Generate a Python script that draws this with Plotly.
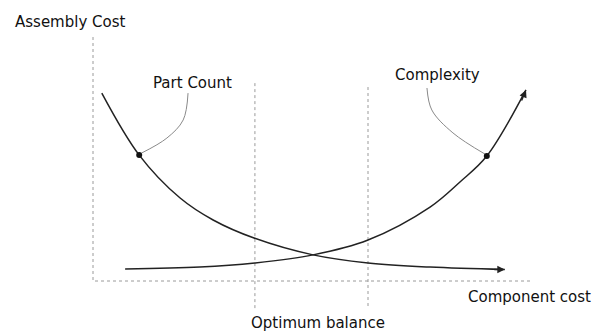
import plotly.graph_objects as go

# ---- data (conceptual units: component cost 0..10, assembly cost 0..10) ----
part_count_x = [0.20, 1.05, 1.98, 2.73, 3.66, 5.00, 6.25, 7.66, 9.36]
part_count_y = [7.70, 5.16, 3.40, 2.50, 1.76, 1.07, 0.74, 0.57, 0.47]

complexity_x = [0.73, 2.43, 3.68, 5.00, 6.25, 7.66, 8.34, 8.95, 9.84]
complexity_y = [0.49, 0.57, 0.74, 1.07, 1.68, 3.03, 4.06, 5.12, 7.83]

optimum_x = [3.68, 6.25]
optimum_top = [8.11, 7.95]
optimum_bottom = [-1.19, -1.07]

part_dot = (1.05, 5.16)
complexity_dot = (8.95, 5.12)

part_leader_x = [2.16, 2.05, 1.68, 1.10]
part_leader_y = [7.70, 6.60, 5.86, 5.24]
cx_leader_x = [7.59, 7.70, 8.18, 8.91]
cx_leader_y = [7.91, 7.01, 6.07, 5.20]

labels = {
    "y_title": "Assembly Cost",
    "x_title": "Component cost",
    "part": "Part Count",
    "complexity": "Complexity",
    "optimum": "Optimum balance",
}

FONT = "DejaVu Sans"
INK = "#222222"
GRAY = "#9a9a9a"

fig = go.Figure()

# axes (dotted)
fig.add_trace(go.Scatter(x=[0, 0, 9.98], y=[10.0, 0, 0], mode="lines",
                         line=dict(color=GRAY, width=1, dash="dot"), hoverinfo="skip"))
# optimum balance lines
for xv, t, b in zip(optimum_x, optimum_top, optimum_bottom):
    fig.add_trace(go.Scatter(x=[xv, xv], y=[t, b], mode="lines",
                             line=dict(color=GRAY, width=1, dash="dot"), hoverinfo="skip"))

# leaders
fig.add_trace(go.Scatter(x=part_leader_x, y=part_leader_y, mode="lines",
                         line=dict(color="#8a8a8a", width=1, shape="spline"), hoverinfo="skip"))
fig.add_trace(go.Scatter(x=cx_leader_x, y=cx_leader_y, mode="lines",
                         line=dict(color="#8a8a8a", width=1, shape="spline"), hoverinfo="skip"))

# curves
fig.add_trace(go.Scatter(x=part_count_x, y=part_count_y, mode="lines",
                         line=dict(color=INK, width=1.5, shape="spline", smoothing=1.0)))
fig.add_trace(go.Scatter(x=complexity_x, y=complexity_y, mode="lines",
                         line=dict(color=INK, width=1.5, shape="spline", smoothing=1.0)))

# dots
fig.add_trace(go.Scatter(x=[part_dot[0], complexity_dot[0]], y=[part_dot[1], complexity_dot[1]],
                         mode="markers", marker=dict(color="#111111", size=6)))

# arrow heads
fig.add_annotation(x=part_count_x[-1], y=part_count_y[-1], ax=-12, ay=0, text="",
                   showarrow=True, arrowhead=2, arrowsize=1, arrowwidth=1.5, arrowcolor=INK)
fig.add_annotation(x=complexity_x[-1], y=complexity_y[-1], ax=-5, ay=12, text="",
                   showarrow=True, arrowhead=2, arrowsize=1, arrowwidth=1.5, arrowcolor=INK)

tf = dict(family=FONT, size=15, color="#111111")
fig.add_annotation(x=-1.82, y=10.6, text=labels["y_title"], showarrow=False,
                   xanchor="left", yanchor="middle", font=tf)
fig.add_annotation(x=2.25, y=8.1, text=labels["part"], showarrow=False,
                   xanchor="center", yanchor="middle", font=tf)
fig.add_annotation(x=7.84, y=8.45, text=labels["complexity"], showarrow=False,
                   xanchor="center", yanchor="middle", font=tf)
fig.add_annotation(x=9.91, y=-0.66, text=labels["x_title"], showarrow=False,
                   xanchor="center", yanchor="middle", font=tf)
fig.add_annotation(x=5.11, y=-1.72, text=labels["optimum"], showarrow=False,
                   xanchor="center", yanchor="middle", font=tf)

# page body has an 8px offset; axis origin sits at screen (93, 281)
fig.update_layout(
    width=604, height=334,
    margin=dict(l=0, r=0, t=0, b=0),
    paper_bgcolor="white", plot_bgcolor="white",
    showlegend=False,
    xaxis=dict(range=[-85 / 44, (604 - 85) / 44], visible=False, fixedrange=True),
    yaxis=dict(range=[(273 - 334) / 24.4, 273 / 24.4], visible=False, fixedrange=True),
)

fig.write_html("out.html")
